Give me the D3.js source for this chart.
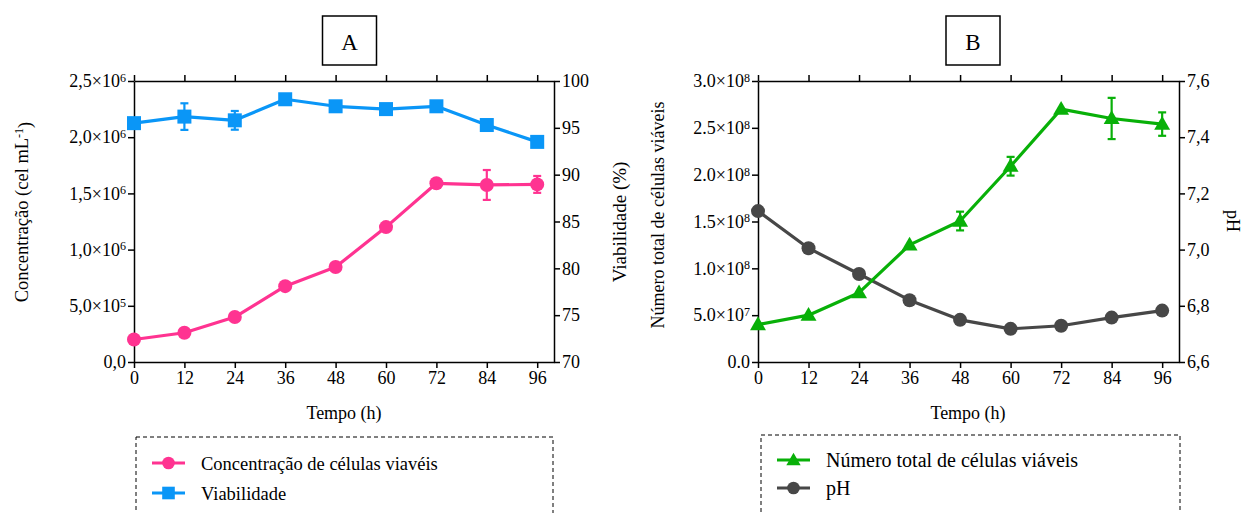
<!DOCTYPE html>
<html>
<head>
<meta charset="utf-8">
<script src="https://cdn.jsdelivr.net/npm/d3@7"></script>
<style>
  body { margin: 0; background: #fff; }
  text { font-family: "Liberation Serif", "Times New Roman", serif; fill: #000; }
</style>
</head>
<body>
<svg id="chart" width="1242" height="513"></svg>
<script>
// time points (h)
const hours = [0, 12, 24, 36, 48, 60, 72, 84, 96];
const xTicks = [0, 12, 24, 36, 48, 60, 72, 84, 96];

// panel A
const concentracao = [2.0e5, 2.6e5, 4.0e5, 6.75e5, 8.45e5, 1.2e6, 1.59e6, 1.575e6, 1.58e6];
const concentracaoErr = [0, 0, 0, 0, 0, 0, 0, 1.33e5, 0.75e5];
const viabilidade = [95.5, 96.2, 95.8, 98.05, 97.3, 97.0, 97.3, 95.3, 93.5];
const viabilidadeErr = [0, 1.42, 1.0, 0.45, 0, 0, 0, 0, 0];
const concTicks = [0, 5e5, 1e6, 1.5e6, 2e6, 2.5e6];
const concTickLabels = ["0,0", "5,0×10^5", "1,0×10^6", "1,5×10^6", "2,0×10^6", "2,5×10^6"];
const viabTicks = [70, 75, 80, 85, 90, 95, 100];

// panel B
const numeroTotal = [4.0e7, 5.0e7, 7.4e7, 1.25e8, 1.505e8, 2.09e8, 2.70e8, 2.60e8, 2.54e8];
const numeroTotalErr = [0, 0, 0, 0, 1.0e7, 1.0e7, 0, 2.2e7, 1.25e7];
const ph = [7.137, 7.005, 6.913, 6.82, 6.75, 6.718, 6.729, 6.758, 6.783];
const numTicks = [0, 5e7, 1e8, 1.5e8, 2e8, 2.5e8, 3e8];
const numTickLabels = ["0.0", "5.0×10^7", "1.0×10^8", "1.5×10^8", "2.0×10^8", "2.5×10^8", "3.0×10^8"];
const phTicks = [6.6, 6.8, 7.0, 7.2, 7.4, 7.6];

const pink = "#ff3391";
const blue = "#0a96f7";
const green = "#08b008";
const grey = "#474747";

const svg = d3.select("#chart");

// turn "a^b" tick text into base + superscript
function superscriptTicks(g) {
    g.selectAll(".tick text").each(function() {
        const t = d3.select(this);
        const parts = t.text().split("^");
        if (parts.length < 2) return;
        t.text(null);
        t.append("tspan").text(parts[0]);
        t.append("tspan").attr("dy", "-0.45em").attr("font-size", "12px").text(parts[1]);
    });
}

function styleAxis(g) {
    g.selectAll("path.domain").attr("stroke", "#000").attr("stroke-width", 1.5);
    g.selectAll(".tick line").attr("stroke", "#000").attr("stroke-width", 1.5);
    g.selectAll(".tick text").attr("font-size", "18px");
}

function drawFrame(x, yl, yr, leftLabels, leftTicks, rightTicks, rightFmt) {
    const [x0, x1] = x.range();
    const [yb, yt] = yl.range();
    // bottom
    svg.append("g").attr("transform", `translate(0,${yb})`)
        .call(d3.axisBottom(x).tickValues(xTicks).tickSize(6).tickPadding(3).tickSizeOuter(0))
        .call(styleAxis);
    // top (ticks only)
    svg.append("g").attr("transform", `translate(0,${yt})`)
        .call(d3.axisTop(x).tickValues(xTicks).tickSize(6).tickFormat("").tickSizeOuter(0))
        .call(styleAxis);
    // left
    svg.append("g").attr("transform", `translate(${x0},0)`)
        .call(d3.axisLeft(yl).tickValues(leftTicks).tickSize(6).tickPadding(2).tickSizeOuter(0)
            .tickFormat((d, i) => leftLabels[i]))
        .call(styleAxis)
        .call(superscriptTicks);
    // right
    svg.append("g").attr("transform", `translate(${x1},0)`)
        .call(d3.axisRight(yr).tickValues(rightTicks).tickSize(6).tickPadding(2).tickSizeOuter(0)
            .tickFormat(rightFmt))
        .call(styleAxis);
}

function drawSeries(x, y, values, errs, color, marker) {
    const g = svg.append("g");
    const line = d3.line().x((d, i) => x(hours[i])).y(d => y(d));
    g.append("path").datum(values)
        .attr("fill", "none").attr("stroke", color).attr("stroke-width", 3.2)
        .attr("stroke-linejoin", "round").attr("d", line);
    // error bars
    values.forEach((v, i) => {
        const e = errs ? errs[i] : 0;
        if (!e) return;
        const cx = x(hours[i]), ya = y(v + e), yb = y(v - e);
        g.append("line").attr("x1", cx).attr("x2", cx).attr("y1", ya).attr("y2", yb)
            .attr("stroke", color).attr("stroke-width", 2.2);
        [ya, yb].forEach(yy => g.append("line").attr("x1", cx - 4).attr("x2", cx + 4)
            .attr("y1", yy).attr("y2", yy).attr("stroke", color).attr("stroke-width", 2.2));
    });
    values.forEach((v, i) => drawMarker(g, marker, x(hours[i]), y(v), color, 1));
}

function drawMarker(g, marker, cx, cy, color, k) {
    if (marker === "circle") {
        g.append("circle").attr("cx", cx).attr("cy", cy).attr("r", 7 * k).attr("fill", color);
    } else if (marker === "square") {
        const s = 14 * k;
        g.append("rect").attr("x", cx - s / 2).attr("y", cy - s / 2).attr("width", s).attr("height", s).attr("fill", color);
    } else {
        g.append("path").attr("transform", `translate(${cx},${cy + 1})`)
            .attr("d", d3.symbol(d3.symbolTriangle, 110 * k * k)()).attr("fill", color);
    }
}

function titleBox(cx, label) {
    svg.append("rect").attr("x", cx - 27).attr("y", 16).attr("width", 54).attr("height", 49)
        .attr("fill", "none").attr("stroke", "#000").attr("stroke-width", 1.5);
    svg.append("text").attr("x", cx).attr("y", 50).attr("text-anchor", "middle")
        .attr("font-size", "23px").text(label);
}

function legendBox(x0, y0, w, fs, rows) {
    svg.append("rect").attr("x", x0).attr("y", y0).attr("width", w).attr("height", 120)
        .attr("fill", "none").attr("stroke", "#000").attr("stroke-width", 1).attr("stroke-dasharray", "4,3");
    const g = svg.append("g");
    rows.forEach(r => {
        g.append("line").attr("x1", r.lx).attr("x2", r.lx + 33).attr("y1", r.y).attr("y2", r.y)
            .attr("stroke", r.color).attr("stroke-width", 3.2);
        drawMarker(g, r.marker, r.lx + 16.5, r.y, r.color, 0.9);
        g.append("text").attr("x", r.tx).attr("y", r.y + 7).attr("font-size", fs).text(r.label);
    });
}

// ---- panel A
const xA = d3.scaleLinear().domain([0, 100]).range([134, 554]);
const yConc = d3.scaleLinear().domain([0, 2.5e6]).range([362, 81]);
const yViab = d3.scaleLinear().domain([70, 100]).range([362, 81]);
drawFrame(xA, yConc, yViab, concTickLabels, concTicks, viabTicks, d3.format("d"));
drawSeries(xA, yConc, concentracao, concentracaoErr, pink, "circle");
drawSeries(xA, yViab, viabilidade, viabilidadeErr, blue, "square");

svg.append("text").attr("transform", "translate(28,212) rotate(-90)").attr("text-anchor", "middle")
    .attr("font-size", "18.5px")
    .call(t => {
        t.append("tspan").text("Concentração (cel mL");
        t.append("tspan").attr("dy", "-0.45em").attr("font-size", "12px").text("-1");
        t.append("tspan").attr("dy", "0.45em").text(")");
    });
svg.append("text").attr("transform", "translate(626,222) rotate(-90)").attr("text-anchor", "middle")
    .attr("font-size", "19px").text("Viabilidade (%)");
svg.append("text").attr("x", 344).attr("y", 419).attr("text-anchor", "middle")
    .attr("font-size", "18px").text("Tempo (h)");
titleBox(349.5, "A");
legendBox(136, 437, 417, "18.5px", [
    { lx: 152, tx: 201, y: 463, color: pink, marker: "circle", label: "Concentração de células viavéis" },
    { lx: 152, tx: 201, y: 493, color: blue, marker: "square", label: "Viabilidade" }
]);

// ---- panel B
const xB = d3.scaleLinear().domain([0, 100]).range([758, 1179]);
const yNum = d3.scaleLinear().domain([0, 3e8]).range([362, 81]);
const yPh = d3.scaleLinear().domain([6.6, 7.6]).range([362, 81]);
drawFrame(xB, yNum, yPh, numTickLabels, numTicks, phTicks, d => d3.format(".1f")(d).replace(".", ","));
drawSeries(xB, yPh, ph, null, grey, "circle");
drawSeries(xB, yNum, numeroTotal, numeroTotalErr, green, "triangle");

svg.append("text").attr("transform", "translate(664,215) rotate(-90)").attr("text-anchor", "middle")
    .attr("font-size", "18px").text("Número total de células viáveis");
svg.append("text").attr("transform", "translate(1227,221) rotate(90)").attr("text-anchor", "middle")
    .attr("font-size", "18px").text("pH");
svg.append("text").attr("x", 968).attr("y", 419).attr("text-anchor", "middle")
    .attr("font-size", "18px").text("Tempo (h)");
titleBox(973, "B");
legendBox(761, 435, 419, "20px", [
    { lx: 777, tx: 826, y: 460, color: green, marker: "triangle", label: "Número total de células viáveis" },
    { lx: 777, tx: 826, y: 488, color: grey, marker: "circle", label: "pH" }
]);
</script>
</body>
</html>
